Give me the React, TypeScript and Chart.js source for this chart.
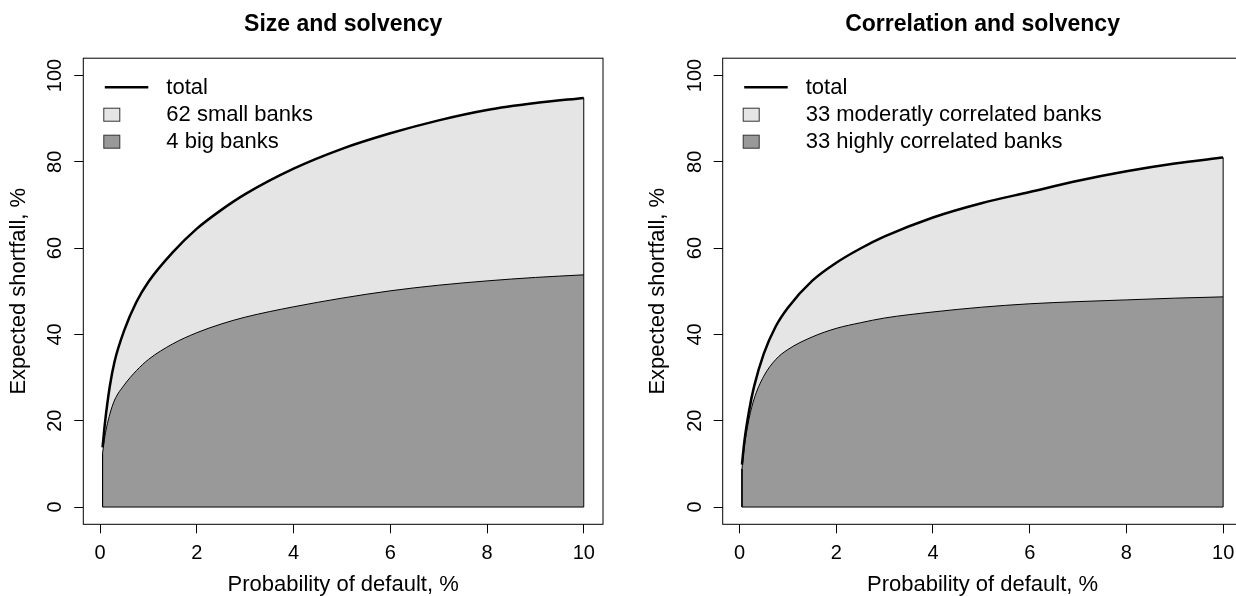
import { useEffect, useRef } from "react";
import { Chart, registerables } from "chart.js";

Chart.register(...registerables);

// probability of default, %
const pd = [0.05, 0.1, 0.2, 0.3, 0.5, 0.75, 1, 1.5, 2, 2.5, 3, 4, 5, 6, 7, 8, 9, 10];

// size and solvency
const sizeTotal = [13.8, 19.5, 28, 33.8, 41, 47.5, 52.2, 59, 64.5, 68.8, 72.5, 78.4, 83, 86.6, 89.6, 92, 93.6, 94.8];
const sizeBig = [12.4, 16.5, 21.5, 24.8, 28.3, 31.6, 34.2, 37.8, 40.4, 42.4, 44, 46.4, 48.4, 50.1, 51.4, 52.4, 53.2, 53.8];

// correlation and solvency
const corrTotal = [9.8, 15.2, 22.5, 27.9, 35.5, 41.9, 46.2, 52.4, 56.6, 59.9, 62.7, 67.1, 70.4, 73, 75.6, 77.8, 79.6, 81];
const corrBig = [8.8, 14, 20.6, 25, 30.3, 34.2, 36.5, 39.4, 41.4, 42.7, 43.8, 45.2, 46.3, 47.1, 47.6, 48, 48.4, 48.7];

const xTicks = [0, 2, 4, 6, 8, 10];
const yTicks = [0, 20, 40, 60, 80, 100];
const yLim = [0, 100];

const FONT = '"Liberation Sans", Arial, Helvetica, sans-serif';
const LIGHT = "#e5e5e5";
const DARK = "#999999";
const H = 596;

// R style 4% axis expansion
const expand = (lo: number, hi: number) => {
  const d = (hi - lo) * 0.04;
  return [lo - d, hi + d];
};

type PanelProps = {
  title: string;
  labels: string[];
  total: number[];
  big: number[];
  left: number;
  width: number;
  padLeft: number;
  padRight: number;
};

function Panel({ title, labels, total, big, left, width, padLeft, padRight }: PanelProps) {
  const ref = useRef<HTMLCanvasElement | null>(null);

  useEffect(() => {
    if (!ref.current) return;
    const n = pd.length - 1;
    const [xMin, xMax] = expand(pd[0], pd[n]);
    const [yMin, yMax] = expand(yLim[0], yLim[1]);
    const pts = (ys: number[]) => pd.map((x, i) => ({ x, y: ys[i] }));

    const decor = {
      id: "decor",
      afterDraw(chart: Chart) {
        const { ctx, chartArea: a } = chart;
        ctx.save();
        ctx.strokeStyle = "#000";
        ctx.lineWidth = 1;
        ctx.strokeRect(a.left, a.top, a.right - a.left, a.bottom - a.top);

        ctx.fillStyle = "#000";
        ctx.textAlign = "center";
        ctx.textBaseline = "middle";
        ctx.font = `bold 23px ${FONT}`;
        ctx.fillText(title, (a.left + a.right) / 2, 24.5);

        // legend
        ctx.lineWidth = 2.5;
        ctx.beginPath();
        ctx.moveTo(a.left + 21.5, a.top + 29);
        ctx.lineTo(a.left + 65, a.top + 29);
        ctx.stroke();
        const fills = [LIGHT, DARK];
        ctx.lineWidth = 1;
        ctx.strokeStyle = "#333";
        fills.forEach((c, i) => {
          const cy = a.top + 56.5 + i * 27;
          ctx.fillStyle = c;
          ctx.fillRect(a.left + 20.5, cy - 6.5, 16, 13);
          ctx.strokeRect(a.left + 20.5, cy - 6.5, 16, 13);
        });
        ctx.fillStyle = "#000";
        ctx.textAlign = "left";
        ctx.font = `22px ${FONT}`;
        labels.forEach((t, i) => ctx.fillText(t, a.left + 83, a.top + 30 + i * 27));
        ctx.restore();
      },
    };

    const chart = new Chart(ref.current, {
      type: "line",
      data: {
        datasets: [
          {
            data: pts(total),
            fill: "origin",
            backgroundColor: LIGHT,
            borderWidth: 0,
            pointRadius: 0,
            cubicInterpolationMode: "monotone",
            order: 4,
          },
          {
            data: pts(big),
            fill: "origin",
            backgroundColor: DARK,
            borderColor: "#000",
            borderWidth: 1,
            pointRadius: 0,
            cubicInterpolationMode: "monotone",
            order: 3,
          },
          {
            // polygon edges
            data: [
              { x: pd[0], y: big[0] },
              { x: pd[0], y: 0 },
              { x: pd[n], y: 0 },
              { x: pd[n], y: total[n] },
            ],
            fill: false,
            borderColor: "#000",
            borderWidth: 1,
            pointRadius: 0,
            tension: 0,
            order: 2,
          },
          {
            data: pts(total),
            fill: false,
            borderColor: "#000",
            borderWidth: 2.5,
            pointRadius: 0,
            cubicInterpolationMode: "monotone",
            order: 1,
          },
        ],
      },
      options: {
        animation: false,
        responsive: false,
        events: [],
        layout: { padding: { left: padLeft, right: padRight, top: 58.2, bottom: 0 } },
        plugins: { legend: { display: false }, tooltip: { enabled: false } },
        scales: {
          x: {
            type: "linear",
            min: xMin,
            max: xMax,
            afterBuildTicks: (s: any) => {
              s.ticks = xTicks.map((v) => ({ value: v }));
            },
            afterFit: (s: any) => {
              s.height = H - 524.3;
            },
            ticks: { font: { family: FONT, size: 20 }, color: "#000", padding: 8, maxRotation: 0, autoSkip: false },
            grid: { drawOnChartArea: false, tickLength: 9, color: "#000" },
            border: { display: false },
            title: {
              display: true,
              text: "Probability of default, %",
              font: { family: FONT, size: 22, lineHeight: 1 },
              color: "#000",
              padding: { top: 0, bottom: 0 },
            },
          },
          y: {
            type: "linear",
            min: yMin,
            max: yMax,
            afterBuildTicks: (s: any) => {
              s.ticks = yTicks.map((v) => ({ value: v }));
            },
            afterFit: (s: any) => {
              s.width = 83.3;
            },
            ticks: {
              font: { family: FONT, size: 20 },
              color: "#000",
              padding: 2,
              minRotation: 90,
              maxRotation: 90,
              crossAlign: "center",
              autoSkip: false,
            },
            grid: { drawOnChartArea: false, tickLength: 9, color: "#000" },
            border: { display: false },
            title: {
              display: true,
              text: "Expected shortfall, %",
              font: { family: FONT, size: 22, lineHeight: 1 },
              color: "#000",
              padding: { top: 8, bottom: 0 },
            },
          },
        },
      },
      plugins: [decor],
    });

    return () => {
      chart.destroy();
    };
  }, [title, labels, total, big, padLeft, padRight]);

  return (
    <canvas
      ref={ref}
      width={width}
      height={H}
      style={{ position: "absolute", left, top: 0, width, height: H }}
    />
  );
}

export default function App() {
  return (
    <div
      style={{
        position: "fixed",
        left: 0,
        top: 0,
        width: 1236,
        height: H,
        overflow: "hidden",
        background: "#fff",
      }}
    >
      <Panel
        title="Size and solvency"
        labels={["total", "62 small banks", "4 big banks"]}
        total={sizeTotal}
        big={sizeBig}
        left={0}
        width={618}
        padLeft={0}
        padRight={15}
      />
      <Panel
        title="Correlation and solvency"
        labels={["total", "33 moderatly correlated banks", "33 highly correlated banks"]}
        total={corrTotal}
        big={corrBig}
        left={618}
        width={640}
        padLeft={21.4}
        padRight={15.6}
      />
    </div>
  );
}
